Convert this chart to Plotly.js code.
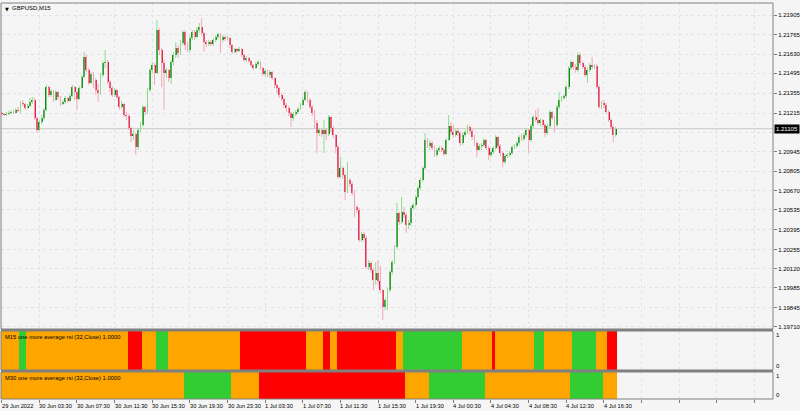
<!DOCTYPE html>
<html><head><meta charset="utf-8">
<script src="https://cdn.plot.ly/plotly-3.0.1.min.js"></script>
<style>html,body{margin:0;padding:0;background:#f5f5f5;}#chart{width:800px;height:411px;}</style>
</head><body><div id="chart"></div>
<script>
const symbolTitle = 'GBPUSD,M15';
const m15Label = 'M15 one more average rsi (32,Close) 1.0000';
const m30Label = 'M30 one more average rsi (32,Close) 1.0000';

const openP = [
1.21215,1.21208,1.21201,1.21208,1.21215,1.21223,1.21215,1.21237,1.21230,1.21286,
1.21279,1.21251,1.21265,1.21293,1.21307,1.21180,1.21096,1.21152,1.21180,1.21237,
1.21399,1.21342,1.21370,1.21307,1.21363,1.21328,1.21279,1.21293,1.21321,1.21300,
1.21335,1.21399,1.21363,1.21314,1.21391,1.21469,1.21610,1.21518,1.21427,1.21490,
1.21448,1.21377,1.21356,1.21483,1.21568,1.21575,1.21434,1.21391,1.21342,1.21377,
1.21328,1.21258,1.21279,1.21201,1.21194,1.21110,1.21054,1.21068,1.20976,1.21096,
1.21131,1.21258,1.21223,1.21377,1.21518,1.21553,1.21497,1.21800,1.21659,1.21568,
1.21497,1.21518,1.21462,1.21575,1.21624,1.21673,1.21638,1.21708,1.21786,1.21694,
1.21659,1.21743,1.21786,1.21751,1.21800,1.21821,1.21779,1.21715,1.21701,1.21715,
1.21701,1.21729,1.21751,1.21772,1.21729,1.21751,1.21736,1.21743,1.21694,1.21645,
1.21666,1.21652,1.21666,1.21624,1.21589,1.21603,1.21582,1.21553,1.21532,1.21560,
1.21575,1.21532,1.21490,1.21511,1.21483,1.21504,1.21462,1.21413,1.21391,1.21342,
1.21314,1.21272,1.21251,1.21215,1.21180,1.21208,1.21223,1.21244,1.21272,1.21307,
1.21363,1.21307,1.21258,1.21215,1.21145,1.21075,1.21096,1.21068,1.21096,1.21068,
1.21187,1.21110,1.21061,1.20976,1.20765,1.20828,1.20779,1.20659,1.20744,1.20716,
1.20652,1.20554,1.20533,1.20321,1.20364,1.20335,1.20131,1.20160,1.20110,1.20040,
1.20089,1.20033,1.19969,1.19850,1.19899,1.19969,1.20096,1.20167,1.20272,1.20511,
1.20448,1.20519,1.20497,1.20427,1.20441,1.20547,1.20568,1.20624,1.20687,1.20744,
1.20828,1.21025,1.20983,1.21004,1.20969,1.20920,1.20955,1.20969,1.20955,1.20927,
1.21025,1.21124,1.21082,1.21061,1.21089,1.21075,1.21004,1.21061,1.21082,1.21117,
1.21089,1.21047,1.21004,1.20955,1.20983,1.20990,1.21025,1.20969,1.20920,1.20941,
1.20969,1.21047,1.20983,1.20934,1.20871,1.20913,1.20920,1.20934,1.20976,1.20983,
1.21004,1.21047,1.21032,1.21061,1.21096,1.21025,1.21124,1.21187,1.21166,1.21145,
1.21166,1.21131,1.21075,1.21124,1.21223,1.21180,1.21131,1.21258,1.21307,1.21321,
1.21335,1.21399,1.21532,1.21575,1.21539,1.21518,1.21624,1.21568,1.21539,1.21483,
1.21518,1.21553,1.21539,1.21546,1.21399,1.21258,1.21286,1.21272,1.21223,1.21166,
1.21117,1.21061];

const highP = [
1.21223,1.21215,1.21223,1.21230,1.21237,1.21237,1.21251,1.21258,1.21300,1.21307,
1.21286,1.21279,1.21321,1.21328,1.21321,1.21187,1.21166,1.21201,1.21251,1.21413,
1.21406,1.21384,1.21377,1.21377,1.21370,1.21335,1.21307,1.21335,1.21328,1.21349,
1.21413,1.21406,1.21370,1.21406,1.21483,1.21645,1.21624,1.21532,1.21504,1.21504,
1.21462,1.21420,1.21497,1.21582,1.21659,1.21589,1.21448,1.21406,1.21391,1.21384,
1.21335,1.21300,1.21286,1.21223,1.21208,1.21117,1.21096,1.21075,1.21110,1.21152,
1.21272,1.21265,1.21391,1.21532,1.21575,1.21568,1.21870,1.21814,1.21673,1.21589,
1.21532,1.21525,1.21589,1.21645,1.21715,1.21694,1.21729,1.21800,1.21800,1.21715,
1.21758,1.21800,1.21800,1.21821,1.21849,1.21884,1.21786,1.21729,1.21729,1.21729,
1.21743,1.21765,1.21779,1.21779,1.21765,1.21758,1.21758,1.21751,1.21701,1.21673,
1.21673,1.21680,1.21673,1.21631,1.21617,1.21610,1.21589,1.21560,1.21575,1.21589,
1.21582,1.21539,1.21525,1.21518,1.21518,1.21511,1.21469,1.21420,1.21399,1.21356,
1.21321,1.21286,1.21265,1.21223,1.21223,1.21237,1.21258,1.21286,1.21328,1.21377,
1.21370,1.21321,1.21272,1.21237,1.21166,1.21110,1.21103,1.21166,1.21110,1.21201,
1.21194,1.21124,1.21068,1.20990,1.20906,1.20842,1.20793,1.20871,1.20758,1.20730,
1.20673,1.20568,1.20547,1.20378,1.20378,1.20350,1.20181,1.20174,1.20124,1.20167,
1.20181,1.20138,1.19976,1.19913,1.19983,1.20110,1.20181,1.20286,1.20582,1.20519,
1.20624,1.20554,1.20511,1.20462,1.20561,1.20582,1.20638,1.20702,1.20758,1.20842,
1.21075,1.21039,1.21025,1.21018,1.20983,1.20969,1.20983,1.20983,1.20969,1.21039,
1.21201,1.21152,1.21131,1.21103,1.21110,1.21089,1.21082,1.21096,1.21131,1.21131,
1.21103,1.21061,1.21018,1.20997,1.21004,1.21039,1.21032,1.20983,1.20955,1.20983,
1.21061,1.21054,1.20997,1.20948,1.20927,1.20934,1.20948,1.20990,1.20997,1.21018,
1.21061,1.21068,1.21075,1.21110,1.21103,1.21138,1.21201,1.21237,1.21251,1.21180,
1.21173,1.21145,1.21138,1.21237,1.21230,1.21194,1.21272,1.21363,1.21335,1.21349,
1.21413,1.21546,1.21589,1.21582,1.21560,1.21645,1.21638,1.21582,1.21553,1.21532,
1.21568,1.21610,1.21560,1.21560,1.21413,1.21300,1.21307,1.21286,1.21237,1.21180,
1.21131,1.21117];

const lowP = [
1.21201,1.21194,1.21194,1.21201,1.21208,1.21208,1.21215,1.21223,1.21215,1.21265,
1.21237,1.21244,1.21258,1.21279,1.21166,1.21075,1.21089,1.21138,1.21166,1.21230,
1.21328,1.21328,1.21293,1.21300,1.21307,1.21265,1.21272,1.21279,1.21286,1.21293,
1.21328,1.21307,1.21237,1.21307,1.21384,1.21462,1.21504,1.21413,1.21420,1.21391,
1.21342,1.21293,1.21342,1.21469,1.21532,1.21420,1.21363,1.21328,1.21328,1.21314,
1.21237,1.21244,1.21187,1.21166,1.21096,1.21011,1.21025,1.20920,1.20955,1.21082,
1.21117,1.21201,1.21208,1.21363,1.21497,1.21413,1.21490,1.21624,1.21399,1.21237,
1.21462,1.21434,1.21420,1.21553,1.21603,1.21603,1.21624,1.21694,1.21659,1.21645,
1.21645,1.21729,1.21729,1.21743,1.21779,1.21765,1.21645,1.21680,1.21687,1.21687,
1.21687,1.21715,1.21736,1.21638,1.21715,1.21722,1.21729,1.21673,1.21631,1.21638,
1.21638,1.21645,1.21610,1.21575,1.21575,1.21568,1.21539,1.21518,1.21525,1.21546,
1.21518,1.21476,1.21476,1.21469,1.21462,1.21448,1.21391,1.21356,1.21321,1.21300,
1.21251,1.21223,1.21194,1.21117,1.21159,1.21194,1.21208,1.21237,1.21265,1.21300,
1.21286,1.21244,1.21194,1.21110,1.20934,1.21054,1.21047,1.20934,1.21025,1.21054,
1.21082,1.21039,1.20934,1.20751,1.20758,1.20751,1.20603,1.20652,1.20695,1.20631,
1.20483,1.20511,1.20307,1.20307,1.20314,1.20117,1.20110,1.20089,1.19969,1.20005,
1.20005,1.19948,1.19758,1.19829,1.19829,1.19955,1.20075,1.20152,1.20258,1.20427,
1.20434,1.20476,1.20371,1.20399,1.20420,1.20533,1.20554,1.20610,1.20673,1.20730,
1.20814,1.20969,1.20955,1.20955,1.20906,1.20906,1.20941,1.20941,1.20913,1.20920,
1.21018,1.21061,1.21039,1.21047,1.21054,1.20983,1.20990,1.21047,1.21068,1.21068,
1.21025,1.20983,1.20906,1.20948,1.20955,1.20976,1.20955,1.20885,1.20906,1.20927,
1.20955,1.20962,1.20913,1.20835,1.20856,1.20899,1.20906,1.20920,1.20962,1.20969,
1.20990,1.21018,1.21018,1.21047,1.20934,1.21011,1.21110,1.21152,1.21131,1.21124,
1.21117,1.21047,1.21061,1.21110,1.21166,1.21082,1.21117,1.21244,1.21293,1.21307,
1.21321,1.21384,1.21518,1.21518,1.21497,1.21504,1.21553,1.21525,1.21469,1.21427,
1.21504,1.21525,1.21525,1.21384,1.21244,1.21244,1.21251,1.21208,1.21152,1.21103,
1.21011,1.21047];

const closeP = [
1.21208,1.21201,1.21208,1.21215,1.21223,1.21215,1.21237,1.21230,1.21286,1.21279,
1.21251,1.21265,1.21293,1.21307,1.21180,1.21096,1.21152,1.21180,1.21237,1.21399,
1.21342,1.21370,1.21307,1.21363,1.21328,1.21279,1.21293,1.21321,1.21300,1.21335,
1.21399,1.21363,1.21314,1.21391,1.21469,1.21610,1.21518,1.21427,1.21490,1.21448,
1.21377,1.21356,1.21483,1.21568,1.21575,1.21434,1.21391,1.21342,1.21377,1.21328,
1.21258,1.21279,1.21201,1.21194,1.21110,1.21054,1.21068,1.20976,1.21096,1.21131,
1.21258,1.21223,1.21377,1.21518,1.21553,1.21497,1.21800,1.21659,1.21568,1.21497,
1.21518,1.21462,1.21575,1.21624,1.21673,1.21638,1.21708,1.21786,1.21694,1.21659,
1.21743,1.21786,1.21751,1.21800,1.21821,1.21779,1.21715,1.21701,1.21715,1.21701,
1.21729,1.21751,1.21772,1.21729,1.21751,1.21736,1.21743,1.21694,1.21645,1.21666,
1.21652,1.21666,1.21624,1.21589,1.21603,1.21582,1.21553,1.21532,1.21560,1.21575,
1.21532,1.21490,1.21511,1.21483,1.21504,1.21462,1.21413,1.21391,1.21342,1.21314,
1.21272,1.21251,1.21215,1.21180,1.21208,1.21223,1.21244,1.21272,1.21307,1.21363,
1.21307,1.21258,1.21215,1.21145,1.21075,1.21096,1.21068,1.21096,1.21068,1.21187,
1.21110,1.21061,1.20976,1.20765,1.20828,1.20779,1.20659,1.20744,1.20716,1.20652,
1.20554,1.20533,1.20321,1.20364,1.20335,1.20131,1.20160,1.20110,1.20040,1.20089,
1.20033,1.19969,1.19850,1.19899,1.19969,1.20096,1.20167,1.20272,1.20511,1.20448,
1.20519,1.20497,1.20427,1.20441,1.20547,1.20568,1.20624,1.20687,1.20744,1.20828,
1.21025,1.20983,1.21004,1.20969,1.20920,1.20955,1.20969,1.20955,1.20927,1.21025,
1.21124,1.21082,1.21061,1.21089,1.21075,1.21004,1.21061,1.21082,1.21117,1.21089,
1.21047,1.21004,1.20955,1.20983,1.20990,1.21025,1.20969,1.20920,1.20941,1.20969,
1.21047,1.20983,1.20934,1.20871,1.20913,1.20920,1.20934,1.20976,1.20983,1.21004,
1.21047,1.21032,1.21061,1.21096,1.21025,1.21124,1.21187,1.21166,1.21145,1.21166,
1.21131,1.21075,1.21124,1.21223,1.21180,1.21131,1.21258,1.21307,1.21321,1.21335,
1.21399,1.21532,1.21575,1.21539,1.21518,1.21624,1.21568,1.21539,1.21483,1.21518,
1.21553,1.21539,1.21546,1.21399,1.21258,1.21286,1.21272,1.21223,1.21166,1.21117,
1.21061,1.21105];

const lastPrice = 1.21105;

const timeTickBars = [0,16,32,48,64,80,96,112,128,144,160,176,192,208,224,240,256];
const timeTickLabels = ['29 Jun 2022','30 Jun 03:30','30 Jun 07:30','30 Jun 11:30','30 Jun 15:30',
  '30 Jun 19:30','30 Jun 23:30','1 Jul 03:30','1 Jul 07:30','1 Jul 11:30','1 Jul 15:30',
  '1 Jul 19:30','4 Jul 00:30','4 Jul 04:30','4 Jul 08:30','4 Jul 12:30','4 Jul 16:30'];
const gridBars = [0,16,32,48,64,80,96,112,128,144,160,176,192,208,224,240,256,272,288,304,320];

const priceTicks = [1.21905,1.21765,1.21630,1.21495,1.21355,1.21215,1.21080,1.20945,1.20805,
  1.20670,1.20535,1.20395,1.20255,1.20120,1.19985,1.19845,1.19710];
// the 1.21080 label sits under the current-price box in the reference
const hiddenTick = 1.21080;

// indicator states as runs: [state, number of bars]
const m15Runs = [['flat',8],['up',3],['flat',43],['down',6],['flat',6],['up',5],['flat',31],
  ['down',28],['flat',7],['down',3],['flat',3],['down',25],['flat',3],['up',25],['flat',13],
  ['down',1],['flat',17],['up',4],['flat',12],['up',10],['flat',5],['down',4]];
const m30Runs = [['flat',78],['up',20],['flat',12],['down',62],['flat',10],['up',24],
  ['flat',36],['up',14],['flat',6]];

const stateColor = {flat:'#ffa500', up:'#32cd32', down:'#ff0000'};
const bullBody = '#0b7a0b', bearBody = '#dc143c';
const bullWick = '#8fdc8f', bearWick = '#f4a7b6';

const FONT = 'Liberation Sans, Arial, sans-serif';
const barIdx = closeP.map((_, i) => i);
const bodyBase = closeP.map((c, i) => Math.min(c, openP[i]));
const bodyH = closeP.map((c, i) => Math.max(Math.abs(c - openP[i]), 0.00004));
const bodyCol = closeP.map((c, i) => c >= openP[i] ? bullBody : bearBody);

function runsToBars(runs, yaxis) {
  const xs = [], ws = [], cs = [];
  let start = 0;
  runs.forEach(([s, n]) => { xs.push(start + (n - 1) / 2); ws.push(n); cs.push(stateColor[s]); start += n; });
  return {type:'bar', x: xs, y: xs.map(() => 1), base: xs.map(() => 0), width: ws,
    marker:{color: cs, line:{width:0}}, xaxis:'x', yaxis: yaxis, hoverinfo:'skip'};
}

const traces = [
  {type:'ohlc', x: barIdx, open: openP, high: highP, low: lowP, close: closeP, tickwidth: 0,
   increasing:{line:{color: bullWick, width:1}}, decreasing:{line:{color: bearWick, width:1}},
   xaxis:'x', yaxis:'y', hoverinfo:'skip'},
  {type:'bar', x: barIdx, y: bodyH, base: bodyBase, width: 0.8,
   marker:{color: bodyCol, line:{width:0}}, xaxis:'x', yaxis:'y', hoverinfo:'skip'},
  runsToBars(m15Runs, 'y2'),
  runsToBars(m30Runs, 'y3')
];

const mainDom = [0.1768, 1], p1Dom = [0.0732, 0.1717], p2Dom = [0, 0.0682];
const frame = '#808080', grid = '#e0e3ec';

const annotations = [
  {xref:'paper', yref:'paper', x:0, y:1, xanchor:'left', yanchor:'top', xshift:2, yshift:-1,
   text:'▼', showarrow:false, font:{family:'DejaVu Sans', size:5, color:'#000'}},
  {xref:'paper', yref:'paper', x:0, y:1, xanchor:'left', yanchor:'top', xshift:9, yshift:0,
   text: symbolTitle, showarrow:false, font:{family:FONT, size:6, color:'#000'}},
  {xref:'paper', yref:'paper', x:0, y:p1Dom[1], xanchor:'left', yanchor:'top', xshift:2, yshift:-1,
   text: m15Label, showarrow:false, font:{family:FONT, size:5.8, color:'#000'}},
  {xref:'paper', yref:'paper', x:0, y:p2Dom[1], xanchor:'left', yanchor:'top', xshift:2, yshift:-1,
   text: m30Label, showarrow:false, font:{family:FONT, size:5.8, color:'#000'}},
  {xref:'paper', yref:'y2', x:1, y:1, xanchor:'left', yanchor:'top', xshift:1, yshift:1,
   text:'1', showarrow:false, font:{family:FONT, size:6, color:'#000'}},
  {xref:'paper', yref:'y2', x:1, y:0, xanchor:'left', yanchor:'bottom', xshift:1, yshift:-1,
   text:'0', showarrow:false, font:{family:FONT, size:6, color:'#000'}},
  {xref:'paper', yref:'y3', x:1, y:1, xanchor:'left', yanchor:'top', xshift:1, yshift:1,
   text:'1', showarrow:false, font:{family:FONT, size:6, color:'#000'}},
  {xref:'paper', yref:'y3', x:1, y:0, xanchor:'left', yanchor:'bottom', xshift:1, yshift:-1,
   text:'0', showarrow:false, font:{family:FONT, size:6, color:'#000'}},
  {xref:'paper', yref:'y', x:1, y:lastPrice, xanchor:'left', yanchor:'middle', xshift:1,
   text: lastPrice.toFixed(5), showarrow:false, bgcolor:'#000', borderpad:1,
   font:{family:FONT, size:6, color:'#fff'}}
];
timeTickBars.forEach((b, k) => annotations.push({
  xref:'x', yref:'paper', x:b, y:0, xanchor:'left', yanchor:'top', xshift:-2, yshift:-2,
  text: timeTickLabels[k], showarrow:false, font:{family:FONT, size:5.7, color:'#000'}}));

const shapes = [
  {type:'rect', xref:'paper', yref:'paper', x0:0, x1:1, y0:p1Dom[1], y1:mainDom[0], fillcolor:frame, line:{width:0}},
  {type:'rect', xref:'paper', yref:'paper', x0:0, x1:1, y0:p2Dom[1], y1:p1Dom[0], fillcolor:frame, line:{width:0}},
  {type:'line', xref:'paper', yref:'y', x0:0, x1:1, y0:lastPrice, y1:lastPrice, line:{color:'#c8c8c8', width:1}, layer:'below'},
  {type:'rect', xref:'paper', yref:'paper', x0:0, x1:1, y0:mainDom[0], y1:mainDom[1], line:{color:frame, width:1}},
  {type:'rect', xref:'paper', yref:'paper', x0:0, x1:1, y0:p1Dom[0], y1:p1Dom[1], line:{color:frame, width:1}},
  {type:'rect', xref:'paper', yref:'paper', x0:0, x1:1, y0:p2Dom[0], y1:p2Dom[1], line:{color:frame, width:1}}
];

const layout = {
  width: 800, height: 411,
  margin: {l:1, r:27, t:3, b:12, pad:0},
  paper_bgcolor:'#f5f5f5', plot_bgcolor:'#f5f5f5',
  showlegend:false, barmode:'overlay', bargap:0, dragmode:false,
  font:{family:FONT, size:6, color:'#000'},
  xaxis:{range:[-0.3, 327.9], anchor:'y3', tickmode:'array', tickvals: gridBars,
    showticklabels:false, ticks:'outside', ticklen:3, tickcolor:frame, tickwidth:1,
    showgrid:true, gridcolor:grid, griddash:'dot', gridwidth:1, zeroline:false, showline:false,
    rangeslider:{visible:false}, fixedrange:true},
  yaxis:{domain: mainDom, range:[1.19695, 1.21990], side:'right', anchor:'x',
    tickmode:'array', tickvals: priceTicks,
    ticktext: priceTicks.map(v => v === hiddenTick ? '' : v.toFixed(5)),
    ticks:'outside', ticklen:3, tickcolor:frame, tickfont:{family:FONT, size:6, color:'#000'},
    showgrid:true, gridcolor:grid, griddash:'dot', zeroline:false, showline:false, fixedrange:true},
  yaxis2:{domain: p1Dom, range:[0,1], anchor:'x', showticklabels:false, showgrid:false,
    zeroline:false, showline:false, ticks:'', fixedrange:true},
  yaxis3:{domain: p2Dom, range:[0,1], anchor:'x', showticklabels:false, showgrid:false,
    zeroline:false, showline:false, ticks:'', fixedrange:true},
  shapes: shapes,
  annotations: annotations
};

Plotly.newPlot('chart', traces, layout, {staticPlot:true, displayModeBar:false});
</script>
</body></html>
